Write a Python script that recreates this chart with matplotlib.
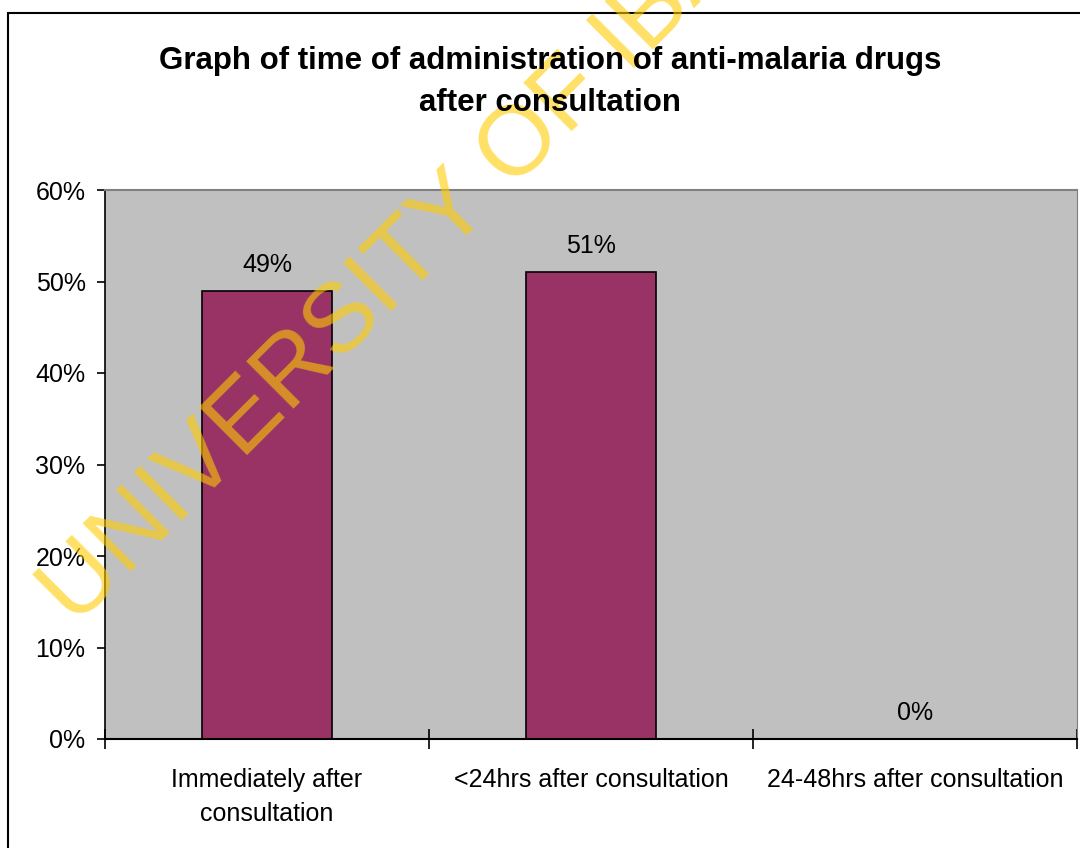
import matplotlib.pyplot as plt
import numpy as np
from matplotlib.patches import Rectangle
from matplotlib.ticker import PercentFormatter

categories = ['Immediately after\nconsultation', '<24hrs after consultation', '24-48hrs after consultation']
values = [0.49, 0.51, 0.0]
labels = ['49%', '51%', '0%']

plt.rcParams['font.family'] = ['Liberation Sans', 'DejaVu Sans']

fig = plt.figure(figsize=(10.8, 8.48), dpi=100)
ax = fig.add_axes([105 / 1080, 1 - 739 / 848, 972 / 1080, 549 / 848])
ax.set_facecolor('#C0C0C0')

x = np.arange(len(values))
ax.bar(x, values, width=0.4, color='#993366', edgecolor='black', linewidth=1.2, zorder=2)

# value labels above bars
for xi, v, t in zip(x, values, labels):
    ax.annotate(t, (xi, v), xytext=(0, 10), textcoords='offset points',
                ha='center', va='bottom', fontsize=18)

ax.set_xlim(-0.5, 2.5)
ax.set_ylim(0, 0.6)
ax.set_yticks(np.arange(0, 0.61, 0.1))
ax.yaxis.set_major_formatter(PercentFormatter(1.0, decimals=0))
ax.tick_params(axis='y', length=6, width=1.2, pad=8, labelsize=18)

ax.set_xticks(x)
ax.set_xticklabels(categories, fontsize=18, linespacing=1.5)
ax.set_xticks([-0.5, 0.5, 1.5, 2.5], minor=True)
ax.tick_params(axis='x', which='major', length=0, pad=21)
ax.tick_params(axis='x', which='minor', direction='inout', length=14, width=1.2)

ax.spines['left'].set_linewidth(1.2)
ax.spines['bottom'].set_linewidth(1.5)
ax.spines['top'].set_color('#808080')
ax.spines['right'].set_color('#808080')
ax.spines['top'].set_linewidth(1.5)

# title
fig.text(550 / 1080, 1 - 82 / 848,
         'Graph of time of administration of anti-malaria drugs\nafter consultation',
         ha='center', va='center', fontsize=22.5, fontweight='bold',
         linespacing=1.55, zorder=5)

# watermark (runs off the top edge as in the scan)
fig.text(75 / 1080, 1 - 627 / 848, 'UNIVERSITY OF IBADAN', rotation=45,
         rotation_mode='anchor', ha='left', va='baseline', fontsize=71,
         color='#FFCC00', alpha=0.6, zorder=1)

# chart border
fig.patches.append(Rectangle((8 / 1080, -0.01), 1.02, 1 - 13 / 848 + 0.01,
                             transform=fig.transFigure, fill=False,
                             edgecolor='black', linewidth=1.5, zorder=0))

fig.savefig('out.png', dpi=100)
